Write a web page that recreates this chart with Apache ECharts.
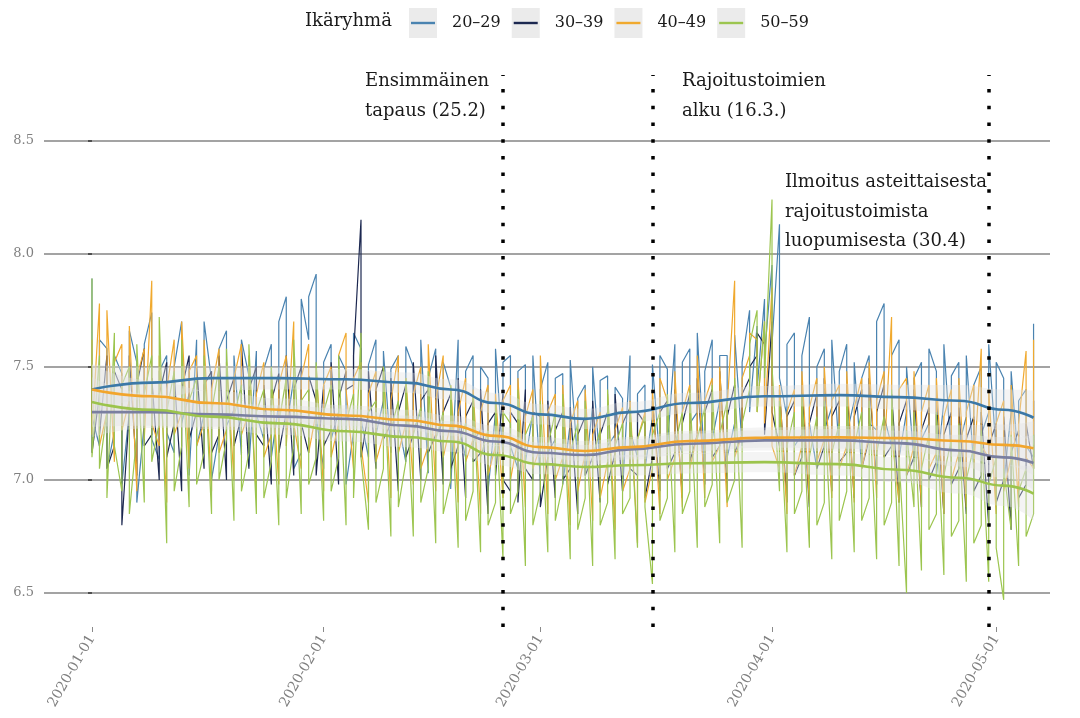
<!DOCTYPE html>
<html><head><meta charset="utf-8">
<script src="https://cdn.jsdelivr.net/npm/echarts@6/dist/echarts.min.js"></script>
<style>html,body{margin:0;padding:0;background:#fff}#c{width:1080px;height:718px}</style>
</head><body><div id="c"></div>
<script>
// ---------- DATA ----------
const startDate = '2020-01-01';
const groups = ['20–29', '30–39', '40–49', '50–59'];
const tickLabels = ['2020-01-01', '2020-02-01', '2020-03-01', '2020-04-01', '2020-05-01'];
const yTicks = [6.5, 7.0, 7.5, 8.0, 8.5];
const eventDates = ['2020-02-25', '2020-03-16', '2020-04-30'];
const eventTexts = ['Ensimmäinen\ntapaus (25.2)', 'Rajoitustoimien\nalku (16.3.)', 'Ilmoitus asteittaisesta\nrajoitustoimista\nluopumisesta (30.4)'];

// two readings per day, starting 2020-01-01
const v2029 = [
7.89,7.28, 7.15,7.62, 7.58,7.05, 7.21,7.55, 7.47,6.98, 7.30,7.66, 7.52,6.90, 7.25,7.60, 7.74,7.18, 7.09,7.48,
7.55,7.21, 7.12,7.50, 7.70,7.25, 7.38,7.02, 7.62,7.15, 7.29,7.70, 7.44,7.00, 7.20,7.58, 7.66,7.24, 7.31,7.55,
7.11,7.62, 7.46,7.06, 7.57,7.29, 7.18,7.49, 7.60,7.10, 7.34,7.70, 7.81,7.22, 7.45,7.05, 7.12,7.80, 7.62,7.81,
7.91,7.28, 7.05,7.52, 7.60,7.18, 7.30,7.55, 7.48,6.98, 7.21,7.65, 7.58,7.27, 7.10,7.51, 7.62,7.20, 7.35,7.57,
7.12,7.49, 7.55,7.25, 7.08,7.59, 7.50,7.22, 7.30,7.62, 7.03,7.45, 7.58,7.19, 7.26,7.52, 7.41,6.96, 7.62,7.25,
7.10,7.48, 7.55,7.17, 7.22,7.50, 7.45,6.95, 7.30,7.58, 7.10,7.52, 7.55,7.15, 7.05,7.48, 7.51,7.08, 7.30,7.55,
7.00,7.40, 7.52,7.12, 7.18,7.45, 7.47,6.98, 7.25,7.53, 7.08,7.36, 7.42,7.02, 7.33,7.50, 7.06,7.44, 7.46,7.15,
7.20,7.41, 7.36,6.95, 7.55,7.22, 7.10,7.38, 7.42,7.05, 7.28,7.51, 7.08,7.55, 7.49,7.15, 7.60,7.20, 7.12,7.52,
7.58,7.25, 7.30,7.65, 7.05,7.48, 7.62,7.18, 7.35,7.55, 7.55,7.10, 7.25,7.64, 7.15,7.52, 7.75,7.30, 7.68,7.40,
7.80,7.55, 7.95,7.60, 8.13,7.45, 7.28,7.60, 7.65,7.15, 7.20,7.55, 7.72,7.25, 7.05,7.50, 7.58,7.22, 7.32,7.62,
7.12,7.48, 7.60,7.20, 7.35,7.52, 7.05,7.45, 7.55,7.25, 7.22,7.70, 7.78,7.28, 7.15,7.55, 7.62,7.10, 7.30,7.50,
7.08,7.45, 7.52,7.18, 7.25,7.58, 7.48,7.02, 7.35,7.60, 7.10,7.46, 7.52,7.15, 7.28,7.55, 7.05,7.42, 7.50,7.20,
7.30,7.60, 7.12,7.52, 7.45,6.98, 7.30,7.48, 7.06,7.35, 7.40,7.15, 7.10,7.69
];
const v3039 = [
7.50,7.12, 7.38,7.20, 7.55,7.05, 7.15,7.48, 7.40,6.80, 7.30,7.55, 7.02,7.42, 7.58,7.15, 7.20,7.45, 7.00,7.38,
7.52,7.10, 7.25,7.47, 6.95,7.40, 7.55,7.18, 7.30,7.50, 7.05,7.42, 7.48,7.12, 7.20,7.55, 7.00,7.35, 7.45,7.15,
7.28,7.60, 7.05,7.40, 7.50,7.20, 7.15,7.42, 6.98,7.35, 7.47,7.12, 7.30,7.55, 7.02,7.40, 7.50,7.25, 7.12,7.46,
7.35,7.02, 7.42,7.15, 7.22,7.52, 6.98,7.36, 7.48,7.40, 7.42,7.55, 8.15,7.10, 7.30,7.48, 7.05,7.40, 7.50,7.18,
7.25,7.45, 6.95,7.30, 7.42,7.10, 7.20,7.52, 7.00,7.35, 7.40,7.12, 7.20,7.55, 6.98,7.30, 7.38,7.05, 7.15,7.45,
6.92,7.28, 7.35,7.08, 7.12,7.40, 6.85,7.25, 7.30,7.02, 7.38,7.00, 6.95,7.30, 7.25,6.90, 7.40,7.05, 7.00,7.30,
7.28,6.88, 7.10,7.35, 6.92,7.22, 7.30,7.00, 7.05,7.32, 6.85,7.20, 7.28,7.02, 7.10,7.35, 6.90,7.20, 7.30,6.98,
7.12,7.38, 6.95,7.25, 7.32,7.05, 7.02,7.30, 7.25,6.92, 7.10,7.35, 6.95,7.30, 7.35,7.05, 7.12,7.40, 6.92,7.25,
7.38,7.08, 7.20,7.45, 6.98,7.30, 7.40,7.10, 7.15,7.48, 6.95,7.28, 7.42,7.12, 7.20,7.38, 7.45,7.50, 7.55,7.65,
7.60,7.20, 7.70,7.30, 7.15,7.40, 6.90,7.28, 7.35,7.02, 7.10,7.42, 6.88,7.25, 7.38,7.05, 7.15,7.45, 6.95,7.28,
7.35,7.08, 7.12,7.42, 6.92,7.28, 7.40,7.05, 7.18,7.45, 6.98,7.30, 7.42,7.10, 7.15,7.38, 6.90,7.25, 7.35,7.02,
7.10,7.40, 6.88,7.22, 7.32,7.00, 7.08,7.35, 6.85,7.20, 7.30,6.98, 7.05,7.32, 6.85,7.18, 7.28,6.95, 7.02,7.30,
6.80,7.15, 7.25,6.90, 7.00,7.28, 6.78,7.12, 7.22,6.92, 6.98,7.25, 7.05,7.35
];
const v4049 = [
7.62,7.20, 7.78,7.15, 7.30,7.75, 7.08,7.52, 7.60,7.22, 7.35,7.68, 6.95,7.45, 7.58,7.18, 7.88,7.25, 7.15,7.55,
6.90,7.40, 7.62,7.20, 7.30,7.70, 7.05,7.48, 7.55,7.15, 7.25,7.62, 6.95,7.40, 7.58,7.12, 7.22,7.52, 7.00,7.45,
7.60,7.20, 7.30,7.55, 6.92,7.38, 7.52,7.10, 7.20,7.48, 6.98,7.42, 7.55,7.15, 7.70,7.25, 7.05,7.45, 7.60,7.12,
7.30,7.50, 6.95,7.42, 7.50,7.10, 7.25,7.55, 7.65,7.40, 7.05,7.45, 7.52,7.15, 6.90,7.38, 7.48,7.08, 7.20,7.50,
6.92,7.35, 7.55,7.12, 7.25,7.45, 6.98,7.38, 7.50,7.05, 7.15,7.60, 6.95,7.35, 7.55,7.10, 7.25,7.42, 6.90,7.30,
7.45,7.08, 7.18,7.40, 6.85,7.30, 7.42,7.02, 7.15,7.38, 6.92,7.35, 7.42,7.00, 7.18,7.45, 6.88,7.28, 7.40,7.05,
7.15,7.55, 6.85,7.30, 7.38,7.00, 7.10,7.42, 6.80,7.25, 7.35,6.95, 7.12,7.40, 6.82,7.20, 7.30,6.92, 7.08,7.38,
6.78,7.22, 7.32,6.95, 7.05,7.35, 6.72,7.18, 7.30,6.90, 7.05,7.40, 6.85,7.45, 7.35,7.00, 7.10,7.48, 6.88,7.30,
7.42,7.05, 7.20,7.55, 6.92,7.35, 7.45,7.08, 7.15,7.50, 6.88,7.32, 7.88,7.10, 7.20,7.45, 7.55,7.65, 7.62,7.30,
7.70,7.25, 7.85,7.15, 7.05,7.42, 6.85,7.30, 7.40,7.02, 7.15,7.48, 6.90,7.32, 7.45,7.08, 7.18,7.50, 6.92,7.35,
7.42,7.05, 7.15,7.48, 6.90,7.32, 7.45,7.05, 7.20,7.52, 6.92,7.35, 7.48,7.10, 7.72,7.20, 6.90,7.40, 7.45,7.02,
7.15,7.48, 6.88,7.30, 7.42,7.05, 7.12,7.45, 6.85,7.28, 7.40,7.00, 7.12,7.45, 6.88,7.30, 7.42,7.05, 7.58,7.15,
7.10,7.40, 6.85,7.25, 7.35,6.95, 7.10,7.42, 6.88,7.25, 7.57,7.10, 7.05,7.62
];
const v5059 = [
7.89,7.10, 7.55,7.05, 7.30,6.92, 7.65,7.15, 6.95,7.42, 7.50,6.85, 7.20,7.60, 6.90,7.38, 7.55,7.08, 7.25,7.72,
6.72,7.30, 7.48,6.95, 7.15,7.62, 6.88,7.35, 7.45,6.98, 7.12,7.55, 6.85,7.30, 7.50,7.00, 7.18,7.58, 6.82,7.28,
7.42,6.95, 7.12,7.60, 6.85,7.30, 7.40,6.92, 7.08,7.50, 6.80,7.25, 7.45,6.92, 7.15,7.62, 6.85,7.35, 7.40,6.98,
7.10,7.52, 6.82,7.30, 7.42,6.95, 7.10,7.55, 6.80,7.25, 7.38,6.92, 7.65,7.10, 6.78,7.30, 7.35,6.90, 7.05,7.50,
6.75,7.22, 7.35,6.88, 7.08,7.45, 6.75,7.20, 7.32,6.90, 7.05,7.48, 6.72,7.18, 7.30,6.85, 7.00,7.42, 6.70,7.15,
7.25,6.82, 6.95,7.38, 6.68,7.10, 7.22,6.80, 6.90,7.35, 6.65,7.30, 7.25,6.85, 6.95,7.40, 6.62,7.20, 7.28,6.80,
6.95,7.35, 6.68,7.15, 7.30,6.82, 6.98,7.38, 6.65,7.12, 7.25,6.78, 6.92,7.35, 6.62,7.10, 7.22,6.80, 6.90,7.40,
6.65,7.15, 7.25,6.85, 6.92,7.32, 6.70,7.18, 7.28,6.88, 6.54,7.20, 7.30,6.82, 6.92,7.38, 6.68,7.15, 7.30,6.85,
6.95,7.40, 6.70,7.18, 7.32,6.88, 6.98,7.42, 6.72,7.20, 7.35,6.90, 7.00,7.45, 6.70,7.25, 7.40,7.60, 7.75,7.30,
7.70,7.45, 8.24,7.50, 6.95,7.35, 6.68,7.15, 7.30,6.85, 6.95,7.38, 6.70,7.10, 7.28,6.80, 6.90,7.35, 6.65,7.12,
7.25,6.82, 6.95,7.38, 6.68,7.15, 7.30,6.82, 6.92,7.35, 6.65,7.12, 7.28,6.80, 6.90,7.40, 6.62,7.10, 6.50,7.22,
6.88,7.30, 6.60,7.05, 7.20,6.78, 6.85,7.30, 6.58,7.02, 7.18,6.75, 6.82,7.25, 6.55,7.00, 7.15,6.72, 6.80,7.22,
6.55,6.98, 7.10,6.70, 6.47,7.05, 6.78,7.20, 6.62,6.95, 7.05,6.75, 6.85,7.20
];

// smoothed trend, day offsets from startDate
const trendDays = [0, 8, 16, 25, 34, 42, 48, 54, 60, 66, 72, 80, 90, 100, 108, 116, 122, 126];
const trend2029 = [7.40, 7.43, 7.45, 7.45, 7.445, 7.43, 7.40, 7.34, 7.29, 7.27, 7.30, 7.34, 7.37, 7.375, 7.366, 7.35, 7.31, 7.275];
const trend3039 = [7.30, 7.30, 7.29, 7.28, 7.27, 7.24, 7.215, 7.17, 7.12, 7.11, 7.135, 7.16, 7.175, 7.175, 7.163, 7.13, 7.10, 7.075];
const trend4049 = [7.40, 7.37, 7.34, 7.31, 7.285, 7.265, 7.24, 7.195, 7.145, 7.128, 7.145, 7.172, 7.187, 7.188, 7.185, 7.172, 7.155, 7.14];
const trend5059 = [7.345, 7.31, 7.28, 7.25, 7.215, 7.19, 7.17, 7.11, 7.07, 7.057, 7.065, 7.074, 7.079, 7.07, 7.045, 7.01, 6.975, 6.94];
const bandHalf  = [0.11, 0.07, 0.055, 0.05, 0.045, 0.045, 0.045, 0.045, 0.045, 0.045, 0.045, 0.045, 0.045, 0.05, 0.055, 0.07, 0.09, 0.12];

// ---------- CHART ----------
const rawColors = ['#4a83b0', '#1c2850', '#f0a92e', '#9cc54f'];
const trendColors = ['#3b78a7', '#7a7fa0', '#f2a52c', '#9cc44c'];
const SERIF = 'DejaVu Serif';
const DAY = 864e5;
const dayOf = s => Math.round((Date.parse(s) - Date.parse(startDate)) / DAY);
const tickDays = tickLabels.map(dayOf);
const eventDays = eventDates.map(dayOf);
const rawValues = [v2029, v3039, v4049, v5059];
const trends = [trend2029, trend3039, trend4049, trend5059];

const series = [];
rawValues.forEach((arr, k) => {
  series.push({
    type: 'line', name: groups[k], z: 2, silent: true,
    data: arr.map((v, i) => [Math.floor(i / 2), v]),
    showSymbol: false, symbol: 'none',
    itemStyle: { color: rawColors[k] },
    lineStyle: { color: rawColors[k], width: 1.2 },
    emphasis: { disabled: true }
  });
});
// confidence ribbons: value first so that the stack works on the y dimension
trends.forEach((t, k) => {
  series.push({
    type: 'line', name: 'lo' + k, stack: 'band' + k, z: 3, silent: true,
    encode: { x: 1, y: 0 },
    data: trendDays.map((d, j) => [t[j] - bandHalf[j], d]),
    smooth: true, smoothMonotone: 'x', symbol: 'none',
    lineStyle: { opacity: 0 }
  });
  series.push({
    type: 'line', name: 'band' + k, stack: 'band' + k, z: 3, silent: true,
    encode: { x: 1, y: 0 },
    data: trendDays.map((d, j) => [2 * bandHalf[j], d]),
    smooth: true, smoothMonotone: 'x', symbol: 'none',
    lineStyle: { opacity: 0 },
    areaStyle: { color: 'rgba(226,226,226,0.55)' }
  });
});
trends.forEach((t, k) => {
  const s = {
    type: 'line', name: 'trend' + k, z: 4, silent: true,
    data: trendDays.map((d, j) => [d, t[j]]),
    smooth: true, smoothMonotone: 'x', symbol: 'none',
    lineStyle: { color: trendColors[k], width: 2.6 }
  };
  if (k === 3) {
    s.markLine = {
      silent: true, symbol: 'none', animation: false,
      label: { show: false },
      lineStyle: { color: '#000', width: 3.5, type: [3.5, 13.2], opacity: 1 },
      emphasis: { disabled: true },
      data: eventDays.map(d => ({ xAxis: d }))
    };
  }
  series.push(s);
});

const lineIcon = 'path://M0,0 M38,30 M2,13.8L26,13.8L26,16.2L2,16.2Z';
const chart = echarts.init(document.getElementById('c'), null, { renderer: 'canvas' });
chart.setOption({
  animation: false,
  backgroundColor: '#ffffff',
  title: {
    text: 'Ikäryhmä', left: 305, top: 12, padding: 0,
    textStyle: { fontFamily: SERIF, fontSize: 18, fontWeight: 'normal', color: '#1a1a1a' }
  },
  legend: [
    {
      left: 409, top: 8, itemWidth: 38, itemHeight: 30, itemGap: 11, padding: 0,
      selectedMode: false,
      icon: 'path://M0,0L28,0L28,30L0,30Z M38,30',
      data: groups.map(g => ({ name: g, itemStyle: { color: '#ebebeb', borderWidth: 0 } })),
      textStyle: { fontFamily: SERIF, fontSize: 16, color: 'rgba(0,0,0,0)' }
    },
    {
      left: 409, top: 8, itemWidth: 38, itemHeight: 30, itemGap: 11, padding: 0,
      selectedMode: false,
      icon: lineIcon,
      data: groups.map((g, k) => ({ name: g, itemStyle: { color: rawColors[k], borderWidth: 0 } })),
      textStyle: { fontFamily: SERIF, fontSize: 16, color: '#1a1a1a' }
    }
  ],
  grid: { left: 44, right: 30, top: 75, bottom: 91, outerBoundsMode: 'none', containLabel: false },
  xAxis: {
    type: 'value', min: -6.42, max: 128.2,
    axisLine: { show: false },
    splitLine: { show: false },
    axisTick: { show: true, customValues: tickDays, length: 5, lineStyle: { color: '#8a8a8a', width: 1 } },
    axisLabel: {
      customValues: tickDays, rotate: 60, margin: 9,
      fontFamily: SERIF, fontSize: 14, color: '#808080',
      formatter: v => tickLabels[tickDays.indexOf(Math.round(v))] || ''
    }
  },
  yAxis: {
    type: 'value', min: 6.35, max: 8.79,
    axisLine: { show: false },
    axisTick: { show: true, customValues: yTicks, length: 4, lineStyle: { color: '#333', width: 1.5 } },
    axisLabel: {
      customValues: yTicks, margin: 10,
      fontFamily: SERIF, fontSize: 13, color: '#808080',
      formatter: v => v.toFixed(1)
    },
    splitLine: { show: true, lineStyle: { color: '#848484', width: 1.7 } }
  },
  graphic: [
    { type: 'text', left: 365, top: 67, silent: true, z: 100,
      style: { text: eventTexts[0], font: '18px "DejaVu Serif"', lineHeight: 29.5, fill: '#1a1a1a' } },
    { type: 'text', left: 682, top: 67, silent: true, z: 100,
      style: { text: eventTexts[1], font: '18px "DejaVu Serif"', lineHeight: 29.5, fill: '#1a1a1a' } },
    { type: 'text', left: 785, top: 168, silent: true, z: 100,
      style: { text: eventTexts[2], font: '18px "DejaVu Serif"', lineHeight: 29.5, fill: '#1a1a1a' } }
  ],
  series: series
});
</script>
</body></html>
